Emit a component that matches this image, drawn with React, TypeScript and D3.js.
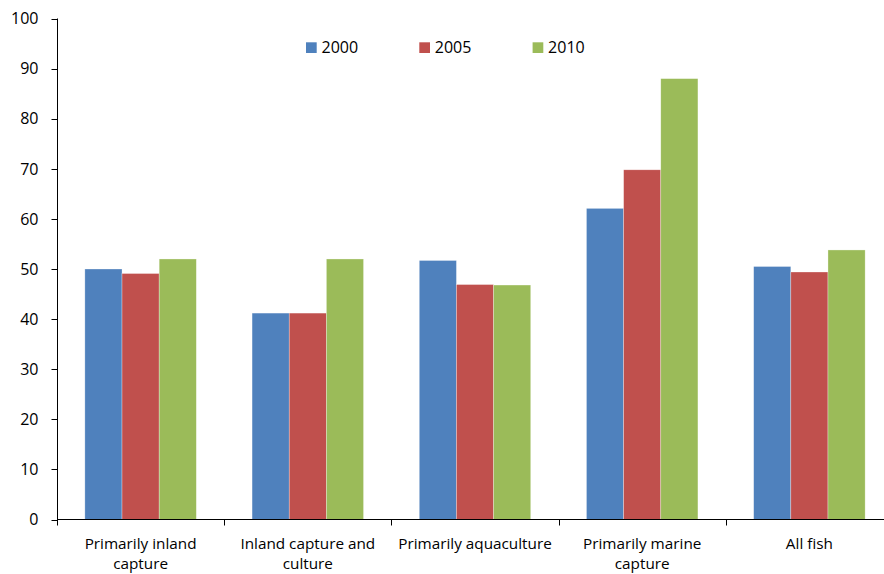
import { useEffect, useRef } from 'react';
import * as d3 from 'd3';

const categories = [
  ['Primarily inland', 'capture'],
  ['Inland capture and', 'culture'],
  ['Primarily aquaculture'],
  ['Primarily marine', 'capture'],
  ['All fish'],
];
const years = ['2000', '2005', '2010'];
const values2000 = [50.0, 41.2, 51.7, 62.1, 50.5];
const values2005 = [49.1, 41.2, 46.9, 69.8, 49.4];
const values2010 = [52.0, 52.0, 46.8, 88.0, 53.8];
const yTicks = [0, 10, 20, 30, 40, 50, 60, 70, 80, 90, 100];
const colors = ['#4F81BD', '#C0504D', '#9BBB59'];

export default function App() {
  const svgRef = useRef<SVGSVGElement>(null);

  useEffect(() => {
    const svg = d3.select(svgRef.current);
    svg.selectAll('*').remove();

    const width = 884;
    const height = 574;
    const margin = { top: 18.5, left: 57, bottom: 519.5, right: 893 };
    const font = "'Open Sans', sans-serif";
    const series = [values2000, values2005, values2010];
    const keys = categories.map((c) => c.join(' '));

    const x0 = d3.scaleBand().domain(keys).range([margin.left, margin.right]).padding(0);
    const x1 = d3.scaleBand().domain(years).range([0, x0.bandwidth()]).paddingInner(0).paddingOuter(0.75);
    const y = d3.scaleLinear().domain([0, 100]).range([margin.bottom, margin.top]);

    // Bars
    const groups = svg
      .append('g')
      .selectAll('g')
      .data(keys)
      .enter()
      .append('g')
      .attr('transform', (d) => `translate(${x0(d)},0)`);

    groups
      .selectAll('rect')
      .data((_, i) => years.map((yr, j) => ({ yr, v: series[j][i], j })))
      .enter()
      .append('rect')
      .attr('x', (d) => x1(d.yr)!)
      .attr('y', (d) => y(d.v))
      .attr('width', x1.bandwidth())
      .attr('height', (d) => y(0) - y(d.v))
      .attr('fill', (d) => colors[d.j])
      .attr('stroke', 'rgba(255,255,255,0.5)')
      .attr('stroke-width', 0.6);

    // Y axis
    const yAxis = svg.append('g').attr('transform', `translate(${margin.left + 0.5},0)`);
    yAxis
      .append('line')
      .attr('x1', 0)
      .attr('x2', 0)
      .attr('y1', y(100))
      .attr('y2', y(0))
      .attr('stroke', '#000');
    yTicks.forEach((t) => {
      yAxis
        .append('line')
        .attr('x1', -6)
        .attr('x2', 0)
        .attr('y1', Math.round(y(t)) + 0.5)
        .attr('y2', Math.round(y(t)) + 0.5)
        .attr('stroke', '#000');
      yAxis
        .append('text')
        .attr('x', -19)
        .attr('y', y(t))
        .attr('dy', '0.36em')
        .attr('text-anchor', 'end')
        .style('font-family', font)
        .style('font-size', '16px')
        .attr('fill', '#000')
        .text(t);
    });

    // X axis
    const xAxis = svg.append('g');
    xAxis
      .append('line')
      .attr('x1', margin.left)
      .attr('x2', margin.right)
      .attr('y1', y(0))
      .attr('y2', y(0))
      .attr('stroke', '#000');
    const bounds = keys.map((k) => x0(k)!).concat([margin.right]);
    bounds.forEach((b) => {
      xAxis
        .append('line')
        .attr('x1', Math.round(b) + 0.5)
        .attr('x2', Math.round(b) + 0.5)
        .attr('y1', y(0))
        .attr('y2', y(0) + 6)
        .attr('stroke', '#000');
    });
    // two-line category labels
    categories.forEach((lines, i) => {
      const cx = x0(keys[i])! + x0.bandwidth() / 2;
      lines.forEach((ln, k) => {
        xAxis
          .append('text')
          .attr('x', cx)
          .attr('y', 548.5 + k * 20.9)
          .attr('text-anchor', 'middle')
          .style('font-family', font)
          .style('font-size', '15.3px')
          .attr('fill', '#000')
          .text(ln);
      });
    });

    // Legend
    const legend = svg.append('g');
    years.forEach((yr, i) => {
      const lx = 306 + i * 113.3;
      legend
        .append('rect')
        .attr('x', lx)
        .attr('y', 42.3)
        .attr('width', 10.7)
        .attr('height', 10.7)
        .attr('fill', colors[i]);
      legend
        .append('text')
        .attr('x', lx + 15.5)
        .attr('y', 47.7)
        .attr('dy', '0.36em')
        .style('font-family', font)
        .style('font-size', '16px')
        .attr('fill', '#000')
        .text(yr);
    });

    svg.attr('width', width).attr('height', height);
  }, []);

  return (
    <svg
      ref={svgRef}
      style={{ position: 'absolute', left: 0, top: 0, background: '#fff' }}
    />
  );
}
